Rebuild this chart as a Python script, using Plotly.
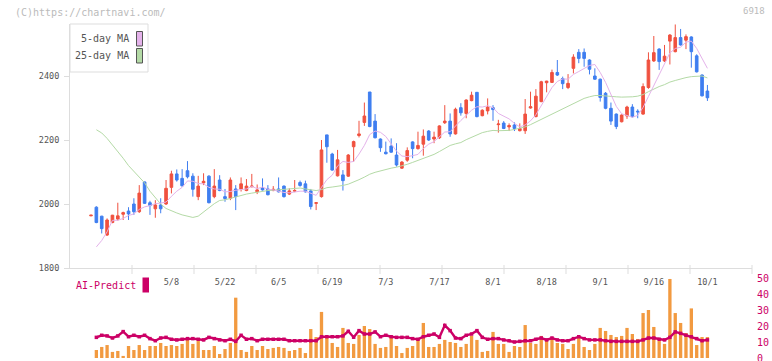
import plotly.graph_objects as go

# ---------------- data ----------------
idx = list(range(116))

opens = [1963,1990,1962,1903,1942,1953,1968,1978,2000,1976,2069,2004,1985,1997,2000,2052,2094,2080,2104,2087,
         2023,2066,2087,2023,2075,2023,2018,2047,2047,2042,2054,2038,2050,2047,2042,2047,2056,2031,2040,2067,
         2063,2041,2002,2023,2216,2156,2088,2091,2087,2179,2214,2255,2350,2259,2203,2162,2181,2153,2112,2137,
         2194,2173,2187,2228,2203,2207,2254,2259,2219,2301,2283,2323,2349,2276,2291,2301,2248,2253,2241,2247,
         2229,2229,2300,2273,2320,2379,2380,2411,2392,2364,2424,2474,2474,2450,2400,2390,2346,2299,2281,2257,
         2275,2303,2290,2281,2364,2447,2484,2447,2509,2476,2520,2512,2522,2463,2403,2353]
highs = [1966,1993,1963,1955,1966,2004,1976,1990,2018,2059,2070,2010,2012,2018,2075,2104,2108,2109,2134,2096,
         2088,2096,2090,2109,2090,2047,2083,2059,2083,2078,2094,2061,2080,2059,2056,2083,2058,2049,2075,2073,
         2073,2047,2005,2200,2216,2160,2169,2106,2156,2198,2260,2317,2350,2281,2205,2195,2205,2190,2134,2177,
         2196,2226,2233,2231,2226,2246,2309,2283,2301,2315,2327,2351,2350,2296,2330,2309,2263,2259,2252,2255,
         2252,2328,2351,2359,2385,2385,2420,2450,2398,2406,2468,2484,2486,2452,2424,2392,2350,2317,2283,2280,
         2307,2312,2296,2377,2474,2525,2487,2497,2531,2561,2547,2530,2524,2468,2405,2372]
lows = [1962,1940,1908,1900,1940,1948,1950,1950,1966,1972,2000,1966,1957,1971,1997,2033,2070,2054,2080,2023,
        2012,2059,2002,2018,2040,2007,2012,1981,2039,2040,2052,2031,2042,2027,2040,2036,2020,2028,2037,2054,
        2036,1983,1981,2020,2129,2104,2086,2042,2085,2132,2208,2244,2240,2205,2163,2155,2160,2117,2110,2132,
        2143,2170,2151,2197,2190,2203,2250,2210,2217,2276,2268,2321,2271,2274,2280,2260,2223,2234,2228,2228,
        2227,2219,2298,2271,2318,2349,2378,2400,2359,2359,2408,2440,2429,2405,2388,2320,2296,2247,2234,2255,
        2266,2270,2268,2279,2360,2444,2419,2444,2436,2474,2495,2484,2426,2411,2336,2322]
closes = [1965,1942,1923,1950,1965,1963,1973,1969,1976,2034,2002,1995,1997,1985,2049,2094,2075,2057,2085,2046,
          2056,2071,2004,2056,2042,2017,2075,2023,2063,2056,2056,2044,2044,2029,2046,2038,2023,2041,2042,2058,
          2038,1992,2004,2169,2179,2106,2138,2073,2153,2195,2219,2275,2242,2207,2176,2157,2162,2122,2131,2167,
          2173,2183,2212,2200,2209,2244,2259,2219,2296,2285,2325,2340,2273,2293,2303,2295,2250,2236,2245,2236,
          2236,2281,2304,2337,2382,2384,2411,2403,2376,2377,2459,2455,2455,2421,2390,2333,2299,2259,2242,2278,
          2303,2273,2288,2367,2450,2473,2445,2462,2528,2520,2497,2523,2476,2413,2338,2332]

ma5 = [None,1866,1886,1913,1949,1949,1955,1964,1969,1983,1991,1995,2001,2003,2006,2024,2040,2052,2072,2071,
       2064,2063,2052,2047,2046,2038,2039,2043,2044,2047,2055,2048,2053,2046,2044,2040,2036,2035,2038,2040,
       2040,2034,2027,2052,2076,2090,2119,2133,2130,2133,2156,2183,2217,2228,2224,2211,2189,2165,2150,2148,
       2151,2155,2173,2187,2195,2210,2225,2226,2245,2261,2277,2293,2304,2303,2307,2301,2283,2275,2266,2252,
       2241,2247,2260,2279,2308,2338,2364,2383,2391,2390,2405,2414,2424,2433,2436,2411,2380,2340,2305,2282,
       2276,2271,2277,2302,2336,2370,2405,2439,2472,2486,2490,2506,2509,2486,2457,2424]
ma25 = [None,2232,2222,2205,2185,2163,2143,2120,2103,2085,2066,2040,2020,2000,1986,1978,1972,1966,1961,1958,
        1962,1974,1988,2001,2011,2013,2018,2022,2027,2031,2034,2037,2040,2042,2043,2044,2045,2047,2049,2050,
        2047,2044,2042,2045,2051,2053,2055,2058,2062,2068,2076,2084,2093,2099,2104,2108,2112,2115,2119,2124,
        2130,2136,2143,2149,2155,2164,2174,2183,2188,2192,2201,2209,2217,2223,2227,2230,2229,2229,2230,2233,
        2236,2241,2248,2256,2265,2273,2282,2290,2297,2304,2312,2320,2330,2335,2339,2339,2337,2337,2335,2334,
        2334,2335,2337,2342,2351,2360,2367,2373,2381,2386,2391,2395,2398,2399,2400,2394]

volume = [None,5.0,6.9,8.1,3.8,4.4,1.3,7.5,5.0,8.1,5.0,7.5,7.5,9.4,7.5,8.1,7.5,8.8,11.3,8.8,
          10.6,5.0,5.0,7.5,2.5,5.6,9.4,37.7,5.0,3.8,7.5,5.0,7.5,5.6,6.3,6.9,6.3,4.4,5.0,6.3,
          3.1,18.1,13.1,28.8,12.5,9.4,6.9,18.8,9.4,8.8,14.4,20.0,18.1,8.8,6.3,6.9,13.1,7.5,3.1,6.3,
          7.5,11.3,21.9,6.9,6.9,8.8,11.3,10.0,9.4,6.9,8.8,13.8,11.3,3.8,4.4,16.3,8.8,8.8,3.8,7.5,
          6.9,20.6,9.4,8.8,13.8,11.3,12.5,9.4,8.8,5.6,8.8,13.1,6.9,5.0,8.8,18.8,16.9,14.4,13.1,13.8,
          18.8,15.0,11.9,28.1,30.0,19.4,10.6,8.8,49.4,28.1,21.9,15.6,31.0,8.1,13.1,13.1]
ai_predict = [None,12.9,14.2,13.8,12.5,13.8,16.5,13.3,14.2,13.3,14.2,12.1,10.8,12.5,12.9,11.7,11.3,11.7,12.1,12.1,
              11.7,11.3,12.9,12.1,11.3,10.8,11.7,10.4,14.2,11.7,12.1,10.8,11.7,11.7,11.7,11.7,11.7,10.8,10.8,10.8,
              10.8,10.8,10.8,13.3,13.3,13.3,13.3,13.8,16.7,13.0,17.1,15.0,15.0,16.3,13.3,14.2,13.3,12.9,12.9,12.9,
              12.1,11.7,13.3,14.2,15.0,12.9,20.4,17.1,12.5,12.1,14.2,15.0,17.1,12.9,11.7,12.1,12.1,11.3,10.8,10.0,
              10.4,10.8,10.8,11.7,12.5,11.3,12.5,11.3,10.8,10.8,12.1,13.3,12.1,11.3,11.3,11.3,10.8,10.4,10.4,10.4,
              10.4,10.4,10.4,11.3,12.5,12.5,11.7,11.3,12.9,16.3,15.4,14.2,13.3,12.1,10.8,11.3]

tick_idx = [15, 25, 35, 45, 55, 65, 75, 85, 95, 105, 115]
tick_labels = ["5/8", "5/22", "6/5", "6/19", "7/3", "7/17", "8/1", "8/18", "9/1", "9/16", "10/1"]
price_ticks = [1800, 2000, 2200, 2400]
ai_ticks = [0, 10, 20, 30, 40, 50]

# ---------------- style ----------------
RED = "#f0513f"
BLUE = "#3f7ef0"
PINK = "#e4b2ea"
GREEN = "#b4daa6"
ORANGE = "#f29a40"
MAG = "#cc0066"
MONO = "DejaVu Sans Mono"

W, H = 772, 361
L, R, T, B = 70, 20, 24, 3


def px(xp):
    return (xp - L) / (W - L - R)


def py(yp):
    return (H - B - yp) / (H - T - B)


fig = go.Figure()

fig.add_trace(go.Scatter(x=idx, y=ma25, mode="lines", line=dict(color=GREEN, width=1),
                         hoverinfo="skip", xaxis="x", yaxis="y"))
fig.add_trace(go.Scatter(x=idx, y=ma5, mode="lines", line=dict(color=PINK, width=1),
                         hoverinfo="skip", xaxis="x", yaxis="y"))
fig.add_trace(go.Candlestick(
    x=idx, open=opens, high=highs, low=lows, close=closes,
    increasing=dict(line=dict(color=RED, width=1), fillcolor=RED),
    decreasing=dict(line=dict(color=BLUE, width=1), fillcolor=BLUE),
    whiskerwidth=0, xaxis="x", yaxis="y"))

fig.add_trace(go.Bar(x=idx, y=volume, width=0.62, marker=dict(color=ORANGE, line=dict(width=0)),
                     xaxis="x", yaxis="y2"))
fig.add_trace(go.Scatter(x=idx, y=ai_predict, mode="lines+markers",
                         line=dict(color=MAG, width=2.4),
                         marker=dict(color=MAG, size=3.5, symbol="square"),
                         xaxis="x", yaxis="y2"))

plot_w = W - L - R
x_lo = -3.92
x_hi = x_lo + plot_w / 5.36

main_bottom = py(268)
y_top = 1800 + (268 - 24) / 0.32

fig.update_layout(
    width=W, height=H, autosize=False,
    margin=dict(l=L, r=R, t=T, b=B, pad=0, autoexpand=False),
    paper_bgcolor="white", plot_bgcolor="white",
    showlegend=False,
    boxgap=0.3,
    xaxis=dict(domain=[0, 1], range=[x_lo, x_hi], anchor="y", automargin=False,
               showgrid=False, zeroline=False, showline=True, linecolor="#dddddd", linewidth=1,
               tickmode="array", tickvals=tick_idx, ticktext=tick_labels,
               ticks="outside", ticklen=6, tickcolor="rgba(0,0,0,0)",
               tickfont=dict(family=MONO, size=8.5, color="#555555"),
               rangeslider=dict(visible=False), fixedrange=True),
    yaxis=dict(domain=[main_bottom, 1], range=[1800, y_top], anchor="x", automargin=False,
               showgrid=False, zeroline=False, showline=True, linecolor="#dddddd", linewidth=1,
               tickmode="array", tickvals=price_ticks,
               ticks="outside", ticklen=5, tickcolor="#dddddd", ticklabelstandoff=3,
               tickfont=dict(family=MONO, size=8.5, color="#555555")),
    yaxis2=dict(domain=[0, py(278)], range=[0, 50], anchor="x", side="right", automargin=False,
                showgrid=False, zeroline=False, showline=False,
                tickmode="array", tickvals=ai_ticks, ticks="", ticklabelstandoff=4,
                ticklabeloverflow="allow",
                tickfont=dict(family=MONO, size=10, color=MAG)),
)

shapes = []
# separator ticks on the date axis
for k in range(1, 12):
    shapes.append(dict(type="line", xref="x domain", yref="paper",
                       x0=k / 11, x1=k / 11, y0=py(265), y1=py(274),
                       line=dict(color="#dddddd", width=1)))
# legend box
shapes.append(dict(type="rect", xref="paper", yref="paper",
                   x0=px(70), x1=px(148), y0=py(72), y1=py(24),
                   line=dict(color="#dddddd", width=1), fillcolor="white"))
shapes.append(dict(type="rect", xref="paper", yref="paper",
                   x0=px(136.5), x1=px(142.5), y0=py(46), y1=py(31.5),
                   line=dict(color="#555555", width=1), fillcolor=PINK))
shapes.append(dict(type="rect", xref="paper", yref="paper",
                   x0=px(136.5), x1=px(142.5), y0=py(63), y1=py(48.5),
                   line=dict(color="#555555", width=1), fillcolor=GREEN))
# AI-Predict swatch
shapes.append(dict(type="rect", xref="paper", yref="paper",
                   x0=px(142.5), x1=px(149), y0=py(292.5), y1=py(277.5),
                   line=dict(width=0), fillcolor=MAG))
fig.update_layout(shapes=shapes)

ann = [
    dict(text="(C)https://chartnavi.com/", x=px(13), y=py(12.5), xanchor="left", yanchor="middle",
         font=dict(family=MONO, size=10, color="#bbbbbb")),
    dict(text="6918", x=px(767), y=py(11), xanchor="right", yanchor="middle",
         font=dict(family=MONO, size=9, color="#bbbbbb")),
    dict(text="5-day MA", x=px(131), y=py(38.5), xanchor="right", yanchor="middle",
         font=dict(family=MONO, size=10, color="#555555")),
    dict(text="25-day MA", x=px(131), y=py(55.5), xanchor="right", yanchor="middle",
         font=dict(family=MONO, size=10, color="#555555")),
    dict(text="AI-Predict", x=px(74), y=py(285), xanchor="left", yanchor="middle",
         font=dict(family=MONO, size=10, color=MAG)),
]
for a in ann:
    a.update(xref="paper", yref="paper", showarrow=False)
fig.update_layout(annotations=ann)

fig.write_html("out.html", config={"displayModeBar": False},
               post_script="document.body.style.margin='0';document.body.style.overflow='hidden';")
